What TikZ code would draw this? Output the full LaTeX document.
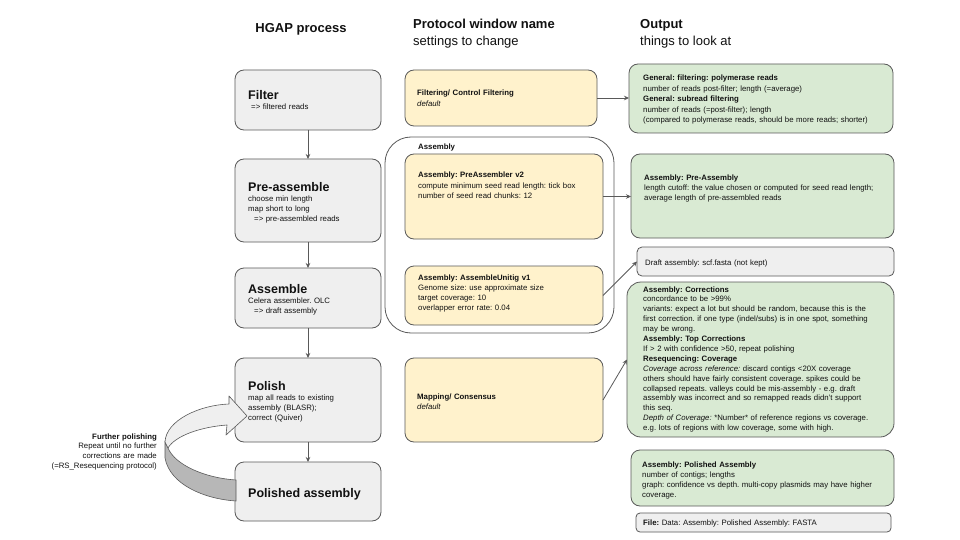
\documentclass[tikz,border=0pt]{standalone}
\usepackage{fontspec}
\setmainfont{Liberation Sans}
\usetikzlibrary{arrows.meta}
\definecolor{edge}{HTML}{595959}
\definecolor{grayfill}{HTML}{EFEFEF}
\definecolor{yel}{HTML}{FFF2CC}
\definecolor{grn}{HTML}{D9EAD3}
\definecolor{band}{HTML}{B7B7B7}
\definecolor{ink}{HTML}{111111}
\frenchspacing
\begin{document}
\frenchspacing
\begin{tikzpicture}[x=1pt,y=-1pt,
  box/.style={draw=edge, line width=0.8pt, rounded corners=9pt, inner sep=0pt, outer sep=0pt},
  procbox/.style={box, fill=grayfill},
  protbox/.style={box, fill=yel},
  outbox/.style={box, fill=grn},
  conn/.style={draw=edge, line width=0.8pt, -{Stealth[length=5pt,width=4.5pt]}},
  head/.style={inner sep=0pt, anchor=base west, text=ink, font=\fontsize{13}{16}\selectfont},
  title/.style={inner sep=0pt, anchor=base west, text=ink, font=\fontsize{12.5}{15}\selectfont\bfseries},
  txt/.style={inner sep=0pt, anchor=base west, text=ink, text width=280pt, align=left, font=\fontsize{7.8}{10.2}\selectfont\frenchspacing},
]
\useasboundingbox[fill=white] (0,0) rectangle (960,540);

% headers
\node[head, anchor=base] (h1) at (301,33) {\textbf{HGAP process}};
\node[head] (h2a) at (413,29) {\textbf{Protocol window name}};
\node[head] (h2b) at (413,46) {settings to change};
\node[head] (h3a) at (640,29) {\textbf{Output}};
\node[head] (h3b) at (640,46) {things to look at};

% assembly container
\node[box, fill=white, rounded corners=26pt, minimum width=229pt, minimum height=196pt] (asmgroup) at (499.5,235) {};

% process boxes
\node[procbox, minimum width=146pt, minimum height=60pt] (filter) at (308,100) {};
\node[procbox, minimum width=146pt, minimum height=83pt] (preasm) at (308,200.5) {};
\node[procbox, minimum width=146pt, minimum height=60pt] (asm) at (308,298) {};
\node[procbox, minimum width=146pt, minimum height=84pt] (polish) at (308,400) {};
\node[procbox, minimum width=146pt, minimum height=59pt] (polished) at (308,491.5) {};

% protocol boxes
\node[protbox, minimum width=192pt, minimum height=56pt] (pfilt) at (501,98) {};
\node[protbox, minimum width=198pt, minimum height=85pt] (ppre) at (504,196.5) {};
\node[protbox, minimum width=198pt, minimum height=59pt] (punitig) at (504,295.5) {};
\node[protbox, minimum width=198pt, minimum height=84pt] (pmap) at (504,400) {};

% output boxes
\node[outbox, minimum width=264pt, minimum height=69pt] (ogen) at (761,98.5) {};
\node[outbox, minimum width=263pt, minimum height=84pt] (opre) at (762.5,196) {};
\node[procbox, rounded corners=5pt, minimum width=257pt, minimum height=29pt] (odraft) at (765.5,261.5) {};
\node[outbox, rounded corners=14pt, minimum width=267pt, minimum height=155pt] (ocorr) at (760.5,359.5) {};
\node[outbox, minimum width=263pt, minimum height=56pt] (opol) at (762.5,478) {};
\node[procbox, rounded corners=4pt, minimum width=255pt, minimum height=19pt] (ofile) at (763.5,522.5) {};

% connectors
\draw[conn] (filter.south) -- (preasm.north);
\draw[conn] (preasm.south) -- (asm.north);
\draw[conn] (asm.south) -- (polish.north);
\draw[conn] (polish.south) -- (polished.north);
\draw[conn] (pfilt.east) -- (pfilt.east -| ogen.west);
\draw[conn] (ppre.east) -- (ppre.east -| opre.west);
\draw[conn] (punitig.east) -- (odraft.west);
\draw[conn] (pmap.east) -- (ocorr.west);

% process texts
\node[title] (tfilter) at (248,100) {Filter};
\node[txt] (sfilter) at (248,110) {\hspace*{3pt}=> filtered reads};
\node[title] (tpre) at (248,191) {Pre-assemble};
\node[txt] (spre) at (248,201) {choose min length\\map short to long\\\hspace*{6pt}=> pre-assembled reads};
\node[title] (tasm) at (248,293) {Assemble};
\node[txt] (sasm) at (248,303.5) {Celera assembler. OLC\\\hspace*{6pt}=> draft assembly};
\node[title] (tpol) at (248,390) {Polish};
\node[txt] (spol) at (248,400) {map all reads to existing\\assembly (BLASR);\\correct (Quiver)};
\node[title] (tpold) at (248,497) {Polished assembly};

% protocol texts
\node[txt] (xfilt) at (417,96) {\textbf{Filtering/ Control Filtering}\\\textit{default}};
\node[txt] (xgroup) at (418,150) {\textbf{Assembly}};
\node[txt] (xpre) at (418,178) {\textbf{Assembly: PreAssembler v2}\\compute minimum seed read length: tick box\\number of seed read chunks: 12};
\node[txt] (xunitig) at (418,280) {\textbf{Assembly: AssembleUnitig v1}\\Genome size: use approximate size\\target coverage: 10\\overlapper error rate: 0.04};
\node[txt] (xmap) at (417,399) {\textbf{Mapping/ Consensus}\\\textit{default}};

% output texts
\node[txt, font=\fontsize{7.8}{10.4}\selectfont\frenchspacing] (ygen) at (643,81) {\textbf{General: filtering: polymerase reads}\\number of reads post-filter; length (=average)\\\textbf{General: subread filtering}\\number of reads (=post-filter); length\\(compared to polymerase reads, should be more reads; shorter)};
\node[txt] (ypre) at (644,180) {\textbf{Assembly: Pre-Assembly}\\length cutoff: the value chosen or computed for seed read length;\\average length of pre-assembled reads};
\node[txt] (ydraft) at (645,265) {Draft assembly: scf.fasta (not kept)};
\node[txt, font=\fontsize{7.8}{9.9}\selectfont\frenchspacing] (ycorr) at (643,292) {\textbf{Assembly: Corrections}\\concordance to be >99\%\\variants: expect a lot but should be random, because this is the\\first correction. if one type (indel/subs) is in one spot, something\\may be wrong.\\\textbf{Assembly: Top Corrections}\\If > 2 with confidence >50, repeat polishing\\\textbf{Resequencing: Coverage}\\\textit{Coverage across reference:} discard contigs <20X coverage\\others should have fairly consistent coverage. spikes could be\\collapsed repeats. valleys could be mis-assembly - e.g. draft\\assembly was incorrect and so remapped reads didn't support\\this seq.\\\textit{Depth of Coverage:} *Number* of reference regions vs coverage.\\e.g. lots of regions with low coverage, some with high.};
\node[txt] (ypol) at (642,467) {\textbf{Assembly: Polished Assembly}\\number of contigs; lengths\\graph: confidence vs depth. multi-copy plasmids may have higher\\coverage.};
\node[txt] (yfile) at (643,525) {\textbf{File:} Data: Assembly: Polished Assembly: FASTA};

% further polishing ribbon arrow
\draw[draw=edge, line width=0.6pt, fill=band]
  (165,442) -- (165,458) .. controls (170,485) and (205,499) .. (236,501)
  -- (236,480) .. controls (205,478) and (175,465) .. (168,448) -- cycle;
\draw[draw=edge, line width=0.6pt, fill=grayfill, line join=round]
  (165,442) .. controls (166,420) and (200,405) .. (229,404)
  -- (229,396) -- (247,416) -- (226,435) -- (227,425)
  .. controls (200,427) and (175,436) .. (168,448) -- cycle;
\node[txt, anchor=base east, align=right, text width=150pt, font=\fontsize{7.8}{9.8}\selectfont\frenchspacing] (further) at (157,439) {\textbf{Further polishing}\\Repeat until no further\\corrections are made\\(=RS\_Resequencing protocol)};
\end{tikzpicture}
\end{document}
